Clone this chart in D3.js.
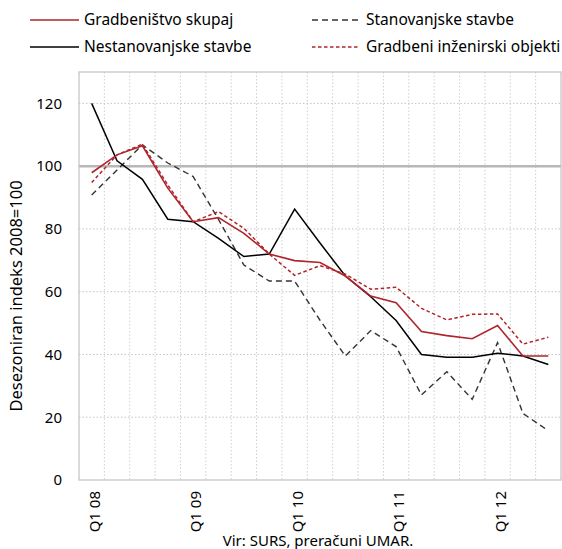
<!DOCTYPE html>
<html>
<head>
<meta charset="utf-8">
<script src="https://cdn.jsdelivr.net/npm/d3@7"></script>
<style>
    body { margin: 0; background: #fff; }
    text { font-family: "Noto Sans", "Open Sans", sans-serif; }
</style>
</head>
<body>
<svg id="chart" width="562" height="549"></svg>
<script>

// quarters Q1 2008 - Q3 2012
const quarters = ["Q1 08", "Q2 08", "Q3 08", "Q4 08", "Q1 09", "Q2 09", "Q3 09", "Q4 09",
    "Q1 10", "Q2 10", "Q3 10", "Q4 10", "Q1 11", "Q2 11", "Q3 11", "Q4 11", "Q1 12", "Q2 12", "Q3 12"];

const skupaj = [97.9, 103.6, 106.5, 93, 82.3, 83.6, 78.6, 72.0, 69.9, 69.3, 65.0, 58.6, 56.5, 47.3, 46.0, 45.0, 49.2, 39.5, 39.5];
const nestanovanjske = [120, 101.7, 95.8, 83.1, 82.3, 77, 71.2, 72.0, 86.3, 75.5, 65.0, 58.4, 50.8, 40.0, 39.1, 39.1, 40.4, 39.5, 36.8];
const stanovanjske = [90.8, 98.8, 106.8, 101, 96.7, 83, 68.5, 63.4, 63.4, 50.9, 39.5, 47.6, 42.5, 27.1, 34.5, 25.7, 43.8, 21.2, 15.7];
const inzenirski = [94.8, 103.6, 107, 94, 82.3, 85.5, 80.2, 72.0, 65.2, 68.3, 65.6, 60.8, 61.4, 54.7, 51.0, 52.8, 52.9, 43.3, 45.5];

const yTicks = [0, 20, 40, 60, 80, 100, 120];
const xTicks = ["Q1 08", "Q1 09", "Q1 10", "Q1 11", "Q1 12"];

const svg = d3.select("#chart");

const plotLeft = 79, plotRight = 561, plotTop = 72, plotBottom = 480;

const x = d3.scaleBand()
    .domain(quarters)
    .range([plotLeft, plotRight]);

const y = d3.scaleLinear()
    .domain([0, 130])
    .range([plotBottom, plotTop]);

const cx = q => x(q) + x.bandwidth() / 2;

// gridlines
const grid = svg.append("g");

grid.selectAll("line.vgrid")
    .data(quarters.slice(1))
    .join("line")
    .attr("class", "vgrid")
    .attr("x1", d => x(d))
    .attr("x2", d => x(d))
    .attr("y1", plotTop)
    .attr("y2", plotBottom)
    .attr("stroke", "#cfcfcf")
    .attr("stroke-dasharray", "1.5,2");

grid.selectAll("line.hgrid")
    .data(yTicks.filter(d => d > 0 && d !== 100))
    .join("line")
    .attr("class", "hgrid")
    .attr("x1", plotLeft)
    .attr("x2", plotRight)
    .attr("y1", d => y(d))
    .attr("y2", d => y(d))
    .attr("stroke", "#c4c4c4")
    .attr("stroke-dasharray", "1.5,2");

grid.append("line")
    .attr("x1", plotLeft)
    .attr("x2", plotRight)
    .attr("y1", y(100))
    .attr("y2", y(100))
    .attr("stroke", "#b8b8b8")
    .attr("stroke-width", 2.5);

// plot border
svg.append("rect")
    .attr("x", plotLeft)
    .attr("y", plotTop)
    .attr("width", plotRight - plotLeft)
    .attr("height", plotBottom - plotTop)
    .attr("fill", "none")
    .attr("stroke", "#c2c2c2")
    .attr("stroke-width", 1.2);

// y axis
const yAxis = svg.append("g")
    .attr("transform", `translate(${plotLeft},0)`)
    .call(d3.axisLeft(y).tickValues(yTicks).tickSize(0).tickPadding(17));

yAxis.select(".domain").remove();
yAxis.selectAll("text")
    .attr("font-size", 15)
    .attr("fill", "#000")
    .style("font-family", "'Noto Sans', sans-serif");

// x axis, rotated labels
const xAxis = svg.append("g")
    .attr("transform", `translate(0,${plotBottom})`)
    .call(d3.axisBottom(x).tickValues(xTicks).tickSize(0));

xAxis.select(".domain").remove();
xAxis.selectAll("text")
    .attr("transform", "rotate(-90)")
    .attr("text-anchor", "end")
    .attr("x", -11)
    .attr("y", 0)
    .attr("dy", "0.55em")
    .attr("font-size", 15)
    .attr("fill", "#000")
    .style("font-family", "'Noto Sans', sans-serif");

// axis title
svg.append("text")
    .attr("transform", "translate(22,296) rotate(-90)")
    .attr("text-anchor", "middle")
    .attr("font-size", 16.5)
    .text("Desezoniran indeks 2008=100");

// source
svg.append("text")
    .attr("x", 318)
    .attr("y", 546)
    .attr("text-anchor", "middle")
    .attr("font-size", 15)
    .text("Vir: SURS, preračuni UMAR.");

// series
const series = [
    {name: "Stanovanjske stavbe", values: stanovanjske, color: "#333", dash: "6,4", width: 1.4},
    {name: "Nestanovanjske stavbe", values: nestanovanjske, color: "#000", dash: null, width: 1.5},
    {name: "Gradbeni inženirski objekti", values: inzenirski, color: "#b0252b", dash: "3.5,2.5", width: 1.5},
    {name: "Gradbeništvo skupaj", values: skupaj, color: "#b0252b", dash: null, width: 1.6}
];

const line = d3.line()
    .x((d, i) => cx(quarters[i]))
    .y(d => y(d));

svg.append("g")
    .selectAll("path")
    .data(series)
    .join("path")
    .attr("d", d => line(d.values))
    .attr("fill", "none")
    .attr("stroke", d => d.color)
    .attr("stroke-width", d => d.width)
    .attr("stroke-dasharray", d => d.dash);

// legend
const legendItems = [
    {s: series[3], lx: 30, ly: 20},
    {s: series[1], lx: 30, ly: 47},
    {s: series[0], lx: 312, ly: 20},
    {s: series[2], lx: 312, ly: 47}
];

const legend = svg.append("g")
    .selectAll("g")
    .data(legendItems)
    .join("g")
    .attr("transform", d => `translate(${d.lx},${d.ly})`);

legend.append("line")
    .attr("x1", 0)
    .attr("x2", d => d.lx > 100 ? 46 : 49)
    .attr("stroke", d => d.s.color)
    .attr("stroke-width", d => d.s.width)
    .attr("stroke-dasharray", d => d.s.dash);

legend.append("text")
    .attr("x", d => d.lx > 100 ? 54 : 54)
    .attr("dy", "0.35em")
    .attr("font-size", 15.5)
    .text(d => d.s.name);

</script>
</body>
</html>
